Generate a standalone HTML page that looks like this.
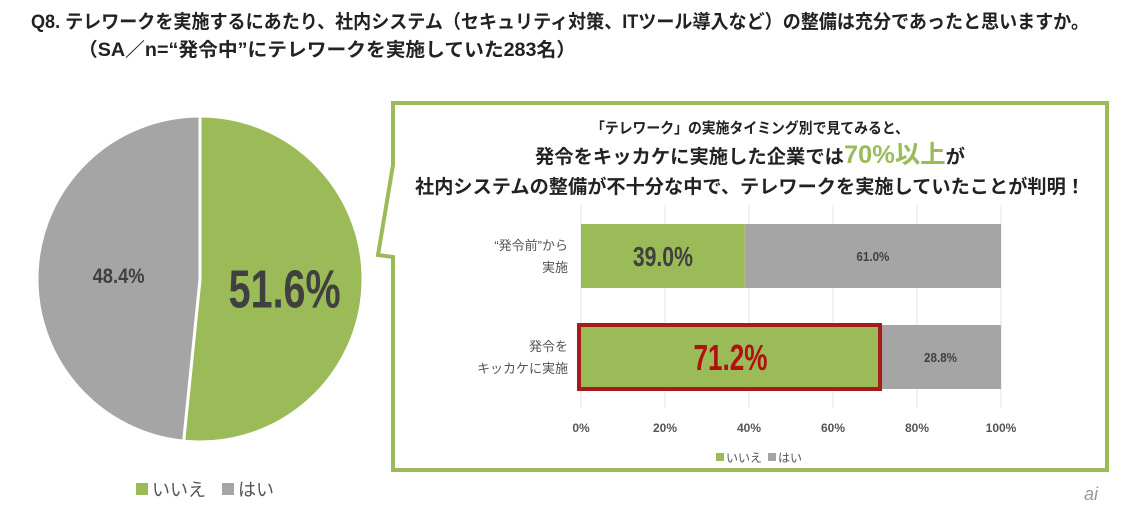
<!DOCTYPE html>
<html><head><meta charset="utf-8">
<style>
html,body{margin:0;padding:0;background:#fff;}
body{width:1125px;height:511px;overflow:hidden;font-family:"Liberation Sans","Noto Sans CJK JP",sans-serif;}
svg text{font-family:"Liberation Sans","Noto Sans CJK JP",sans-serif;}
</style></head>
<body>
<svg id="c" width="1125" height="511" xmlns="http://www.w3.org/2000/svg">
<text x="31" y="28" font-size="19" font-weight="bold" fill="#222" textLength="1058" lengthAdjust="spacingAndGlyphs">Q8. テレワークを実施するにあたり、社内システム（セキュリティ対策、ITツール導入など）の整備は充分であったと思いますか。</text>
<text x="78" y="56" font-size="19" font-weight="bold" fill="#222" textLength="498" lengthAdjust="spacingAndGlyphs">（SA／n=“発令中”にテレワークを実施していた283名）</text>
<g id="pie"></g>
<path d="M393,103 L1107,103 L1107,470 L393,470 L393,257 L378,255 L393,165 Z" fill="#fff" stroke="#9bbb59" stroke-width="4"/>
<text x="750" y="133" text-anchor="middle" font-size="15" font-weight="bold" fill="#222" textLength="318" lengthAdjust="spacingAndGlyphs">「テレワーク」の実施タイミング別で見てみると、</text>
<text x="750" y="163" text-anchor="middle" font-size="19" font-weight="bold" fill="#222" textLength="430" lengthAdjust="spacingAndGlyphs">発令をキッカケに実施した企業では<tspan fill="#9bbb59" font-size="25">70%以上</tspan>が</text>
<text x="750" y="193" text-anchor="middle" font-size="19" font-weight="bold" fill="#222" textLength="670" lengthAdjust="spacingAndGlyphs">社内システムの整備が不十分な中で、テレワークを実施していたことが判明！</text>
<g id="bar"></g>
<text x="1098" y="500" text-anchor="end" font-size="18" font-style="italic" fill="#999">ai</text>
</svg>
<script>
const NS='http://www.w3.org/2000/svg';
const pieLabels=['いいえ','はい'];
const pieValues=[51.6,48.4];
const pieColors=['#9bbb59','#a5a5a5'];
const barCats=['“発令前”から|実施','発令を|キッカケに実施'];
const barNo=[39.0,71.2];
const barYes=[61.0,28.8];
const ticks=[0,20,40,60,80,100];
function mk(t,a,p){const e=document.createElementNS(NS,t);for(const k in a)e.setAttribute(k,a[k]);p.appendChild(e);return e;}
const pg=document.getElementById('pie');
const cx=200,cy=279,r=163;
const tot=pieValues.reduce((a,b)=>a+b,0);
let a0=0;
pieValues.forEach((v,i)=>{
  const a1=a0+v/tot*Math.PI*2;
  const p=(a)=>[cx+r*Math.sin(a),cy-r*Math.cos(a)];
  const s=p(a0),e=p(a1);
  const path=mk('path',{d:`M${cx},${cy} L${s[0]},${s[1]} A${r},${r} 0 ${a1-a0>Math.PI?1:0} 1 ${e[0]},${e[1]} Z`,fill:pieColors[i],stroke:'#fff','stroke-width':3},pg);
  
  
  const m=(a0+a1)/2, big=i===0;
  const lr=big?r*0.52:r*0.5;
  const t=mk('text',{x:cx+lr*Math.sin(m),y:cy-lr*Math.cos(m)+(big?24:8),'text-anchor':'middle','font-size':big?54:21,'font-weight':'bold',fill:'#404040',textLength:big?112:52,lengthAdjust:'spacingAndGlyphs'},pg);
  t.textContent=v.toFixed(1)+'%';
  
  
  a0=a1;
});
let lx=136;
pieLabels.forEach((l,i)=>{
  const sq=mk('rect',{x:lx,y:483,width:12,height:12,fill:pieColors[i]},pg);
  
  
  const t=mk('text',{x:lx+16,y:496,'font-size':18,fill:'#555'},pg);
  t.textContent=l;
  
  
  lx+=86;
});
const bg=document.getElementById('bar');
const x0=581,x1=1001;
const xs=v=>x0+(x1-x0)*v/100;
const barTop=[224,325],bh=64;
ticks.forEach(t=>{
  const g=mk('line',{x1:xs(t),x2:xs(t),y1:205,y2:408,stroke:'#e3e3e3','stroke-width':1},bg);
  
  
  const tx=mk('text',{x:xs(t),y:432,'text-anchor':'middle','font-size':12,'font-weight':'bold',fill:'#555'},bg);
  tx.textContent=t+'%';
  
  
});
barCats.forEach((c,i)=>{
  const y=barTop[i];
  const g1=mk('rect',{x:xs(0),y:y,width:xs(barNo[i])-xs(0),height:bh,fill:'#9bbb59'},bg);
  
  
  const g2=mk('rect',{x:xs(barNo[i]),y:y,width:xs(barNo[i]+barYes[i])-xs(barNo[i]),height:bh,fill:'#a5a5a5'},bg);
  
  
  if(i===1){
    const hl=mk('rect',{x:xs(0)-2,y:y,width:xs(barNo[i])-xs(0)+2,height:bh,fill:'none',stroke:'#a51c1c','stroke-width':4},bg);
    
    
  }
  const t1=mk('text',{x:(xs(0)+xs(barNo[i]))/2,y:y+bh/2+(i===1?13:10),'text-anchor':'middle','font-size':i===1?36:28,'font-weight':'bold',fill:i===1?'#b01010':'#404040',textLength:i===1?74:60,lengthAdjust:'spacingAndGlyphs'},bg);
  t1.textContent=barNo[i].toFixed(1)+'%';
  
  
  const t2=mk('text',{x:(xs(barNo[i])+xs(100))/2,y:y+bh/2+5,'text-anchor':'middle','font-size':13,'font-weight':'bold',fill:'#404040',textLength:33,lengthAdjust:'spacingAndGlyphs'},bg);
  t2.textContent=barYes[i].toFixed(1)+'%';
  
  
  c.split('|').forEach((ln,j)=>{
    const tc=mk('text',{x:568,y:y+bh/2-6+j*22,'text-anchor':'end','font-size':13,fill:'#555'},bg);
    tc.textContent=ln;
    
    
  });
});
let bx=716;
pieLabels.forEach((l,i)=>{
  const sq=mk('rect',{x:bx,y:453,width:8,height:8,fill:pieColors[i]},bg);
  
  
  const t=mk('text',{x:bx+10,y:462,'font-size':12,fill:'#555'},bg);
  t.textContent=l;
  
  
  bx+=52;
});
</script>
</body></html>
